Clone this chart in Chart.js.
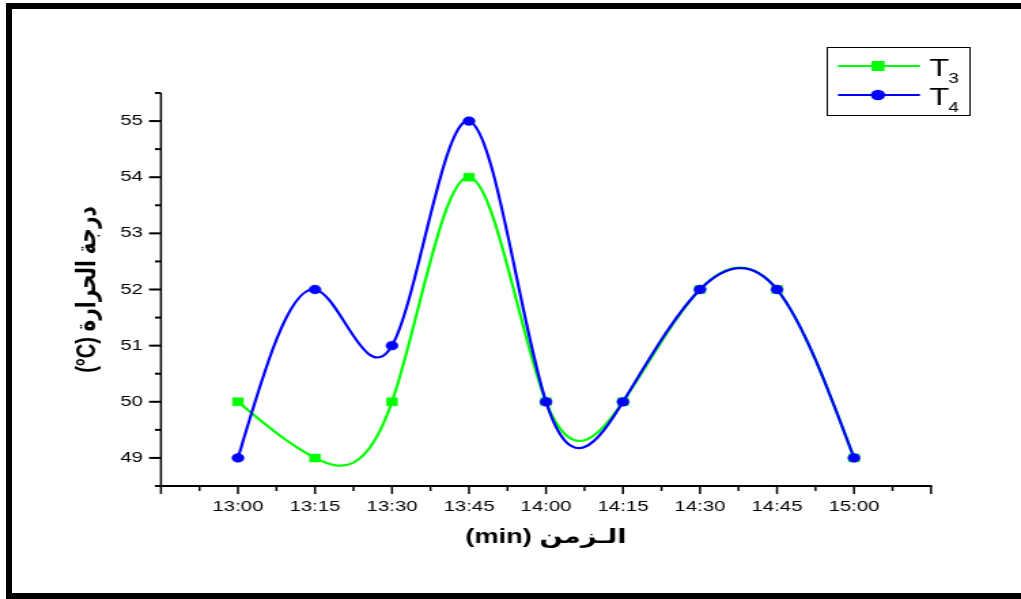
<!DOCTYPE html>
<html>
<head>
<meta charset="utf-8">
<script src="https://cdn.jsdelivr.net/npm/chart.js@4/dist/chart.umd.min.js"></script>
<style>
html,body{margin:0;padding:0;background:#fff;overflow:hidden;width:1021px;height:599px;}
#wrap{position:absolute;left:0;top:0;width:751px;height:599px;transform:scaleX(1.3595206);transform-origin:0 0;}
#frame{position:absolute;left:6px;top:3px;width:1100px;height:584px;border-top:6px solid #000;border-left:6px solid #000;border-bottom:6px solid #000;pointer-events:none;}
</style>
</head>
<body>
<div id="wrap"><canvas id="c" width="751" height="599"></canvas></div>
<div id="frame"></div>
<script>
// ---- data ----
const timeLabels = ['13:00','13:15','13:30','13:45','14:00','14:15','14:30','14:45','15:00'];
const seriesNames = ['T3','T4'];
const t3Values = [50, 49, 50, 54, 50, 50, 52, 52, 49];
const t4Values = [49, 52, 51, 55, 50, 50, 52, 52, 49];
const yTickValues = [49, 50, 51, 52, 53, 54, 55];
const seriesColors = ['#00ff00', '#0000ff'];
const xTitle = '(min) الـزمن';
const yTitle = '(°C) درجة الحرارة';

const FONT = '"Liberation Sans", Arial, "DejaVu Sans", sans-serif';

// natural cubic spline control points (through the library's point elements)
const naturalSpline = {
  id: 'naturalSpline',
  beforeDatasetsDraw(chart) {
    chart.getSortedVisibleDatasetMetas().forEach(meta => {
      const line = meta.dataset;
      if (!line) return;
      line.updateControlPoints(chart.chartArea, meta.indexAxis);
      const pts = meta.data;
      const n = pts.length;
      if (n < 3) return;
      const x = pts.map(p => p.x), y = pts.map(p => p.y);
      const h = [];
      for (let i = 0; i < n - 1; i++) h.push(x[i + 1] - x[i]);
      const M = new Array(n).fill(0);
      const a = [], b = [], c = [], d = [];
      for (let i = 1; i < n - 1; i++) {
        a.push(h[i - 1]);
        b.push(2 * (h[i - 1] + h[i]));
        c.push(h[i]);
        d.push(6 * ((y[i + 1] - y[i]) / h[i] - (y[i] - y[i - 1]) / h[i - 1]));
      }
      const m = b.length;
      for (let i = 1; i < m; i++) {
        const w = a[i] / b[i - 1];
        b[i] -= w * c[i - 1];
        d[i] -= w * d[i - 1];
      }
      const sol = new Array(m);
      sol[m - 1] = d[m - 1] / b[m - 1];
      for (let i = m - 2; i >= 0; i--) sol[i] = (d[i] - c[i] * sol[i + 1]) / b[i];
      for (let i = 1; i < n - 1; i++) M[i] = sol[i - 1];
      const der = [];
      for (let i = 0; i < n - 1; i++) {
        der.push((y[i + 1] - y[i]) / h[i] - h[i] * (2 * M[i] + M[i + 1]) / 6);
      }
      der.push((y[n - 1] - y[n - 2]) / h[n - 2] + h[n - 2] * (M[n - 2] + 2 * M[n - 1]) / 6);
      for (let i = 0; i < n; i++) {
        const p = pts[i];
        const hp = i > 0 ? h[i - 1] : 0;
        const hn = i < n - 1 ? h[i] : 0;
        p.cp1x = x[i] - hp / 3; p.cp1y = y[i] - der[i] * hp / 3;
        p.cp2x = x[i] + hn / 3; p.cp2y = y[i] + der[i] * hn / 3;
      }
      line._path = undefined;
    });
  }
};

// axes lines with major/minor ticks
const axesPlugin = {
  id: 'axesPlugin',
  beforeDatasetsDraw(chart) {
    const ctx = chart.ctx;
    const {left, right, top, bottom} = chart.chartArea;
    const xs = chart.scales.x, ys = chart.scales.y;
    ctx.save();
    ctx.strokeStyle = '#000';
    ctx.lineCap = 'butt';
    const seg = (x1, y1, x2, y2, w) => { ctx.lineWidth = w; ctx.beginPath(); ctx.moveTo(x1, y1); ctx.lineTo(x2, y2); ctx.stroke(); };
    seg(left, top, left, bottom + 1, 1.5);
    seg(left - 0.75, bottom, right + 0.75, bottom, 2);
    xs.ticks.forEach(t => {
      const px = xs.getPixelForValue(t.value);
      const major = Number.isInteger(t.value);
      seg(px, bottom, px, bottom + (major ? 8 : 5), 1.5);
    });
    ys.ticks.forEach(t => {
      const py = ys.getPixelForValue(t.value);
      const major = Number.isInteger(t.value);
      seg(left, py, left - (major ? 8.8 : 4.4), py, 2);
    });
    ctx.restore();
  }
};

// legend box
const legendPlugin = {
  id: 'legendBox',
  afterDraw(chart) {
    const ctx = chart.ctx;
    ctx.save();
    const bx = 608, by = 47, bw = 105, bh = 68;
    ctx.strokeStyle = '#000';
    ctx.lineWidth = 1;
    ctx.strokeRect(bx + 0.5, by + 0.5, bw, bh);
    seriesNames.forEach((name, i) => {
      const y = i === 0 ? 66 : 95;
      ctx.strokeStyle = seriesColors[i];
      ctx.lineWidth = 2;
      ctx.beginPath(); ctx.moveTo(616.4, y); ctx.lineTo(676.7, y); ctx.stroke();
      ctx.fillStyle = seriesColors[i];
      if (i === 0) {
        ctx.fillRect(645.8 - 4.8, y - 5, 9.6, 10);
      } else {
        ctx.beginPath(); ctx.arc(645.8, y, 5.3, 0, Math.PI * 2); ctx.fill();
      }
      ctx.fillStyle = '#000';
      ctx.textBaseline = 'alphabetic';
      ctx.textAlign = 'left';
      ctx.font = '24px ' + FONT;
      ctx.fillText(name.charAt(0), 683.5, y + 10);
      ctx.font = '14px ' + FONT;
      ctx.fillText(name.slice(1), 683.5 + 14, y + 17);
    });
    ctx.restore();
  }
};

const mk = vals => vals.map((v, i) => ({x: i, y: v}));

new Chart(document.getElementById('c'), {
  type: 'line',
  data: {
    datasets: [
      {
        label: seriesNames[0], data: mk(t3Values), order: 2,
        borderColor: seriesColors[0], backgroundColor: seriesColors[0], borderWidth: 2.2,
        pointStyle: 'rect', pointRadius: 5.6, pointBorderWidth: 0.5,
        pointBackgroundColor: seriesColors[0], pointBorderColor: seriesColors[0],
        tension: 0.4, fill: false
      },
      {
        label: seriesNames[1], data: mk(t4Values), order: 1,
        borderColor: seriesColors[1], backgroundColor: seriesColors[1], borderWidth: 2.2,
        pointStyle: 'circle', pointRadius: 4.4, pointBorderWidth: 0.5,
        pointBackgroundColor: seriesColors[1], pointBorderColor: seriesColors[1],
        tension: 0.4, fill: false
      }
    ]
  },
  options: {
    responsive: false,
    animation: false,
    devicePixelRatio: 1,
    layout: {padding: {left: 0, right: 66.2, top: 93, bottom: 0}},
    plugins: {legend: {display: false}, tooltip: {enabled: false}},
    scales: {
      x: {
        type: 'linear', min: -1, max: 9,
        grid: {display: false, drawTicks: true, tickLength: 8},
        border: {display: false},
        ticks: {
          stepSize: 0.5, autoSkip: false, maxRotation: 0, minRotation: 0, padding: 4,
          color: '#000', font: {family: FONT, size: 15},
          callback: v => (Number.isInteger(v) && v >= 0 && v < timeLabels.length) ? timeLabels[v] : ''
        },
        title: {display: true, text: xTitle, color: '#000', font: {family: FONT, size: 20, weight: 'bold'}, padding: {top: 50, bottom: 50}},
        afterFit: s => { s.height = 113; s.paddingLeft = 0; s.paddingRight = 0; }
      },
      y: {
        type: 'linear', min: 48.5, max: 55.5,
        grid: {display: false, drawTicks: true, tickLength: 8},
        border: {display: false},
        ticks: {
          stepSize: 0.5, autoSkip: false, padding: 5.2,
          color: '#000', font: {family: FONT, size: 15},
          callback: v => yTickValues.includes(v) ? String(v) : ''
        },
        title: {display: true, text: yTitle, color: '#000', font: {family: FONT, size: 20, weight: 'bold'}, padding: {top: 52.7, bottom: 0}},
        afterFit: s => { s.width = 118.4; s.paddingTop = 0; s.paddingBottom = 0; }
      }
    }
  },
  plugins: [naturalSpline, axesPlugin, legendPlugin]
});
</script>
</body>
</html>
